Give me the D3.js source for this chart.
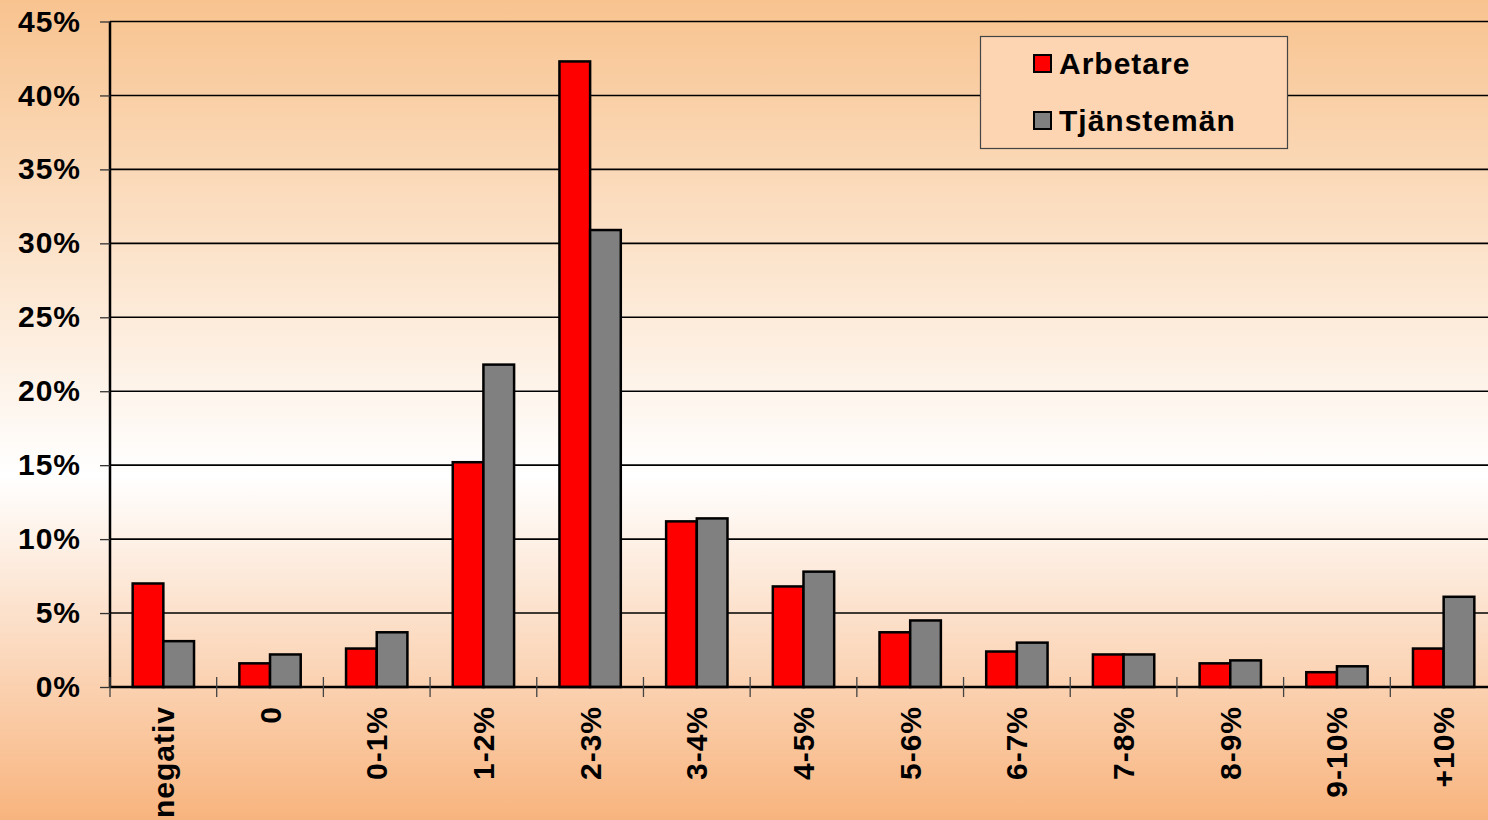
<!DOCTYPE html>
<html>
<head>
<meta charset="utf-8">
<script src="https://cdn.jsdelivr.net/npm/d3@7"></script>
<style>
  html, body { margin: 0; padding: 0; overflow: hidden; }
  svg { display: block; }
</style>
</head>
<body>
<svg id="chart" width="1488" height="820"></svg>
<script>
// data
var categories = ['negativ', '0', '0-1%', '1-2%', '2-3%', '3-4%', '4-5%', '5-6%', '6-7%', '7-8%', '8-9%', '9-10%', '+10%'];
var arbetare = [7.0, 1.6, 2.6, 15.2, 42.3, 11.2, 6.8, 3.7, 2.4, 2.2, 1.6, 1.0, 2.6];
var tjanstemen = [3.1, 2.2, 3.7, 21.8, 30.9, 11.4, 7.8, 4.5, 3.0, 2.2, 1.8, 1.4, 6.1];
var seriesNames = ['Arbetare', 'Tjänstemän'];
var seriesColors = ['#ff0000', '#808080'];
var yTicks = [0, 5, 10, 15, 20, 25, 30, 35, 40, 45];

var svg = d3.select('#chart');
var W = 1488, H = 820;
var plotL = 110, plotR = 1497, plotT = 21.5, plotB = 687;
var font = '"Liberation Sans", Arial, sans-serif';

// background gradient
var defs = svg.append('defs');
var grad = defs.append('linearGradient')
    .attr('id', 'bg').attr('x1', 0).attr('y1', 0).attr('x2', 0).attr('y2', 1);
grad.append('stop').attr('offset', '0%').attr('stop-color', '#f8c38f');
grad.append('stop').attr('offset', '58%').attr('stop-color', '#ffffff');
grad.append('stop').attr('offset', '100%').attr('stop-color', '#f8b47e');
svg.append('rect').attr('width', W).attr('height', H).attr('fill', 'url(#bg)');

var x = d3.scaleBand().domain(categories).range([plotL, plotR]);
var xs = d3.scaleBand().domain(seriesNames)
    .range([0, x.bandwidth() * 0.575]);
var y = d3.scaleLinear().domain([0, 45]).range([plotB, plotT]);

// gridlines
svg.append('g').selectAll('line').data(yTicks.slice(1)).join('line')
    .attr('x1', plotL).attr('x2', W)
    .attr('y1', function(d) { return y(d); }).attr('y2', function(d) { return y(d); })
    .attr('stroke', '#000').attr('stroke-width', 1.6);

// bars
var groups = svg.append('g').selectAll('g').data(categories).join('g')
    .attr('transform', function(d) {
        return 'translate(' + (x(d) + x.bandwidth() * 0.2125) + ',0)';
    });
groups.selectAll('rect').data(function(d, i) {
        return [{s: 0, v: arbetare[i]}, {s: 1, v: tjanstemen[i]}];
    }).join('rect')
    .attr('x', function(d) { return xs(seriesNames[d.s]); })
    .attr('width', xs.bandwidth())
    .attr('y', function(d) { return y(d.v); })
    .attr('height', function(d) { return plotB - y(d.v); })
    .attr('fill', function(d) { return seriesColors[d.s]; })
    .attr('stroke', '#000').attr('stroke-width', 2.5);

// y axis
var yAxis = svg.append('g')
    .attr('transform', 'translate(' + plotL + ',0)')
    .call(d3.axisLeft(y).tickValues(yTicks).tickSize(10).tickPadding(19)
        .tickFormat(function(d) { return d + '%'; }));
yAxis.select('.domain').attr('stroke', '#000').attr('stroke-width', 2.5)
    .attr('d', 'M0,' + plotT + 'V' + plotB);
yAxis.selectAll('.tick line').attr('stroke', '#333').attr('stroke-width', 1.3);
yAxis.selectAll('.tick text')
    .attr('font-family', font).attr('font-size', 30).attr('font-weight', 'bold')
    .attr('letter-spacing', 1)
    .attr('fill', '#000');

// x axis
var xAxis = svg.append('g')
    .attr('transform', 'translate(0,' + plotB + ')')
    .call(d3.axisBottom(x).tickSize(0).tickPadding(0));
xAxis.select('.domain').remove();
svg.append('line').attr('x1', plotL).attr('x2', W).attr('y1', plotB).attr('y2', plotB)
    .attr('stroke', '#000').attr('stroke-width', 2.5);
svg.append('g').selectAll('line').data(categories).join('line')
    .attr('x1', function(d) { return x(d); }).attr('x2', function(d) { return x(d); })
    .attr('y1', plotB - 10).attr('y2', plotB + 10)
    .attr('stroke', '#444').attr('stroke-width', 1.3);
xAxis.selectAll('.tick text')
    .attr('font-family', font).attr('font-size', 30).attr('font-weight', 'bold')
    .attr('letter-spacing', 1)
    .attr('fill', '#000')
    .attr('text-anchor', 'end')
    .attr('dy', '0.35em')
    .attr('transform', 'translate(0,19) rotate(-90)');

// legend
var legend = svg.append('g');
legend.append('rect')
    .attr('x', 980.5).attr('y', 36.5).attr('width', 307).attr('height', 112)
    .attr('fill', '#fdd5b2').attr('stroke', '#444').attr('stroke-width', 1.2);
var items = legend.selectAll('g').data(seriesNames).join('g')
    .attr('transform', function(d, i) { return 'translate(1034,' + (55 + i * 57) + ')'; });
items.append('rect')
    .attr('width', 17).attr('height', 17)
    .attr('fill', function(d, i) { return seriesColors[i]; })
    .attr('stroke', '#000').attr('stroke-width', 2);
items.append('text')
    .attr('x', 25).attr('y', 19)
    .attr('font-family', font).attr('font-size', 30).attr('font-weight', 'bold')
    .attr('letter-spacing', 1)
    .text(function(d) { return d; });
</script>
</body>
</html>
